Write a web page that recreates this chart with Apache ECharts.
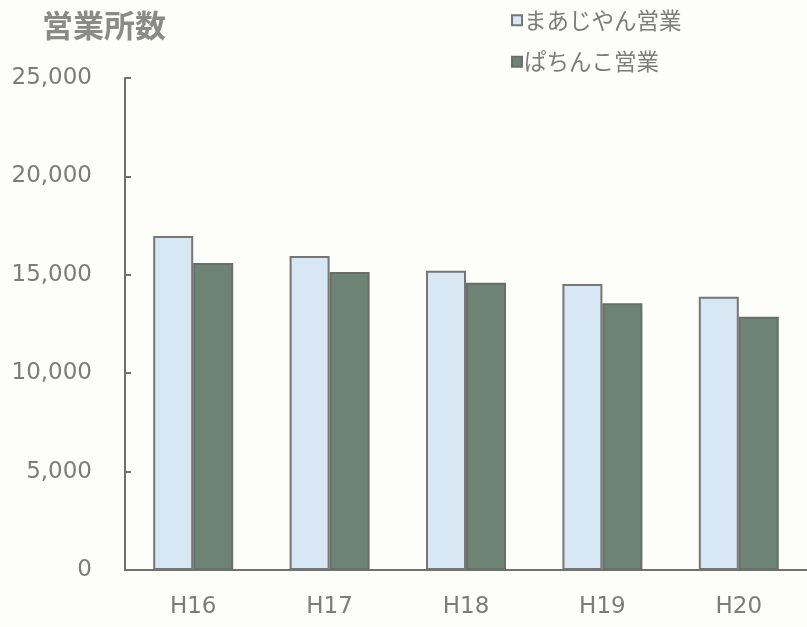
<!DOCTYPE html>
<html><head><meta charset="utf-8">
<script src="https://cdn.jsdelivr.net/npm/echarts@6/dist/echarts.min.js"></script>
<style>html,body{margin:0;padding:0;background:#fdfdf9;}#c{width:807px;height:627px;}</style>
</head><body><div id="c"></div>
<script>
const categories = ['H16','H17','H18','H19','H20'];
const mahjong = [16970, 15950, 15210, 14530, 13880];
const pachinko = [15600, 15140, 14600, 13550, 12870];
const yTicks = [0, 5000, 10000, 15000, 20000, 25000];

const chart = echarts.init(document.getElementById('c'));
const txt = '#7c7c7c';
chart.setOption({
  backgroundColor: '#fdfdf9',
  animation: false,
  title: {
    text: '営業所数', left: 37, top: 5,
    textStyle: {fontFamily: 'Noto Sans CJK JP', fontSize: 31, fontWeight: 'bold', color: '#8a8a8a'}
  },
  legend: {
    orient: 'vertical', left: 506, top: 4, itemGap: 19,
    itemWidth: 10, itemHeight: 10, icon: 'rect',
    textStyle: {fontFamily: 'Noto Sans CJK JP', fontSize: 22.5, color: txt, padding: [0,0,0,-3]},
    data: ['まあじやん営業', 'ぱちんこ営業']
  },
  grid: {left: 125, top: 78, width: 685, height: 492},
  xAxis: {
    type: 'category', data: categories,
    axisLine: {lineStyle: {color: '#707070', width: 2}},
    axisTick: {inside: true, length: 6, lineStyle: {color: '#707070', width: 2}},
    axisLabel: {margin: 26, fontFamily: 'DejaVu Sans', fontSize: 23, color: txt}
  },
  yAxis: {
    type: 'value', min: yTicks[0], max: yTicks[yTicks.length-1], interval: 5000,
    splitLine: {show: false},
    axisLine: {show: true, lineStyle: {color: '#707070', width: 2}},
    axisTick: {show: true, inside: true, length: 6, lineStyle: {color: '#707070', width: 2}},
    axisLabel: {margin: 33, fontFamily: 'DejaVu Sans', fontSize: 23, color: txt,
      formatter: v => v.toLocaleString('en-US')}
  },
  series: [
    {name: 'まあじやん営業', type: 'bar', data: mahjong, barWidth: 40, barGap: '0%',
     itemStyle: {color: '#d7e7f3', borderColor: '#767676', borderWidth: 2}},
    {name: 'ぱちんこ営業', type: 'bar', data: pachinko, barWidth: 40,
     itemStyle: {color: '#6d8474', borderColor: '#6a6e6a', borderWidth: 2}}
  ]
});
</script></body></html>
